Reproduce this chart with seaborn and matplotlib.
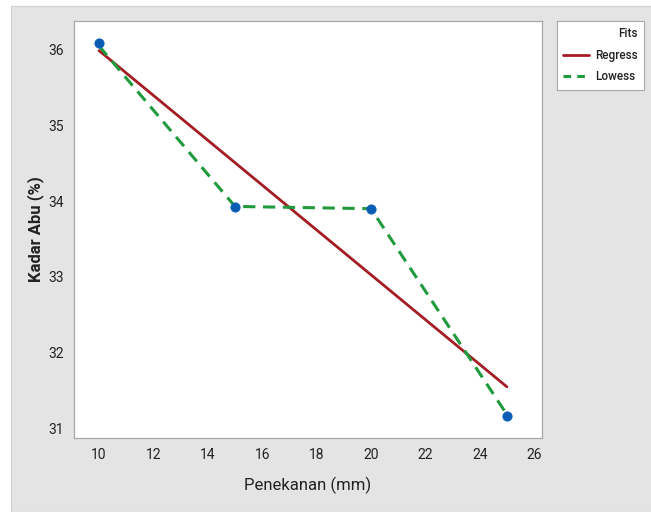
import matplotlib
matplotlib.use("Agg")
import matplotlib.pyplot as plt
import seaborn as sns
import pandas as pd
from matplotlib.patches import Rectangle
from matplotlib.lines import Line2D

# data
penekanan = [10, 15, 20, 25]
kadar_abu = [36.09, 33.92, 33.90, 31.16]
lowess_fit = [36.05, 33.93, 33.90, 31.18]

x_ticks = [10, 12, 14, 16, 18, 20, 22, 24, 26]
y_ticks = [31, 32, 33, 34, 35, 36]

df = pd.DataFrame({"Penekanan (mm)": penekanan, "Kadar Abu (%)": kadar_abu,
                   "Lowess": lowess_fit})

sns.set_style("white")
plt.rcParams["font.family"] = ["Liberation Sans Narrow", "Roboto", "DejaVu Sans"]

fig = plt.figure(figsize=(6.51, 5.12), dpi=100, facecolor="white")
fig.patches.append(Rectangle((11 / 651, 0), 1, 1 - 6 / 512, transform=fig.transFigure,
                             facecolor="#e4e4e4", edgecolor="#cfcfcf", lw=0.8, zorder=-10))
ax = fig.add_axes([74 / 651, 1 - 438 / 512, 468 / 651, 417 / 512])
ax.set_facecolor("white")

red = "#a51d24"
green = "#1f9a3c"
blue = "#0b5cb5"

sns.regplot(data=df, x="Penekanan (mm)", y="Kadar Abu (%)", ax=ax, ci=None,
            scatter=False, truncate=True, line_kws={"color": red, "lw": 2})
sns.lineplot(data=df, x="Penekanan (mm)", y="Lowess", ax=ax, color=green, lw=2.2,
             linestyle=(0, (4, 2.5)), zorder=3)
sns.scatterplot(data=df, x="Penekanan (mm)", y="Kadar Abu (%)", ax=ax, color=blue,
                s=45, edgecolor=blue, zorder=4)

ax.set_xlim(9.08, 26.29)
ax.set_ylim(30.87, 36.38)
ax.set_xticks(x_ticks)
ax.set_yticks(y_ticks)
for s in ax.spines.values():
    s.set_color("#a8a8a8")
    s.set_linewidth(0.9)
ax.tick_params(axis="both", direction="out", length=4, width=0.8, color="#a8a8a8",
               labelsize=10, labelcolor="#222222")
ax.set_xlabel("Penekanan (mm)", fontsize=12, color="#222222", labelpad=10)
ax.set_ylabel("Kadar Abu (%)", fontsize=12, fontweight="bold", color="#222222", labelpad=3)

handles = [Line2D([], [], color=red, lw=2),
           Line2D([], [], color=green, lw=2.2, linestyle=(0, (2.5, 2)))]
leg = fig.legend(handles, ["Regress", "Lowess"], title="Fits",
                 loc="upper left", bbox_to_anchor=(557 / 651, 1 - 21 / 512),
                 frameon=True, fancybox=False, fontsize=8.5, title_fontsize=8.5,
                 handlelength=2.2, handletextpad=0.5, borderpad=0.55, labelspacing=0.7,
                 alignment="right", borderaxespad=0)
for t in leg.get_texts() + [leg.get_title()]:
    t.set_fontweight("medium")
    t.set_color("#222222")
leg.get_frame().set_edgecolor("#a8a8a8")
leg.get_frame().set_linewidth(0.8)
leg.get_frame().set_facecolor("white")
leg.get_frame().set_alpha(1)

fig.savefig("out.png", dpi=100, facecolor=fig.get_facecolor())
